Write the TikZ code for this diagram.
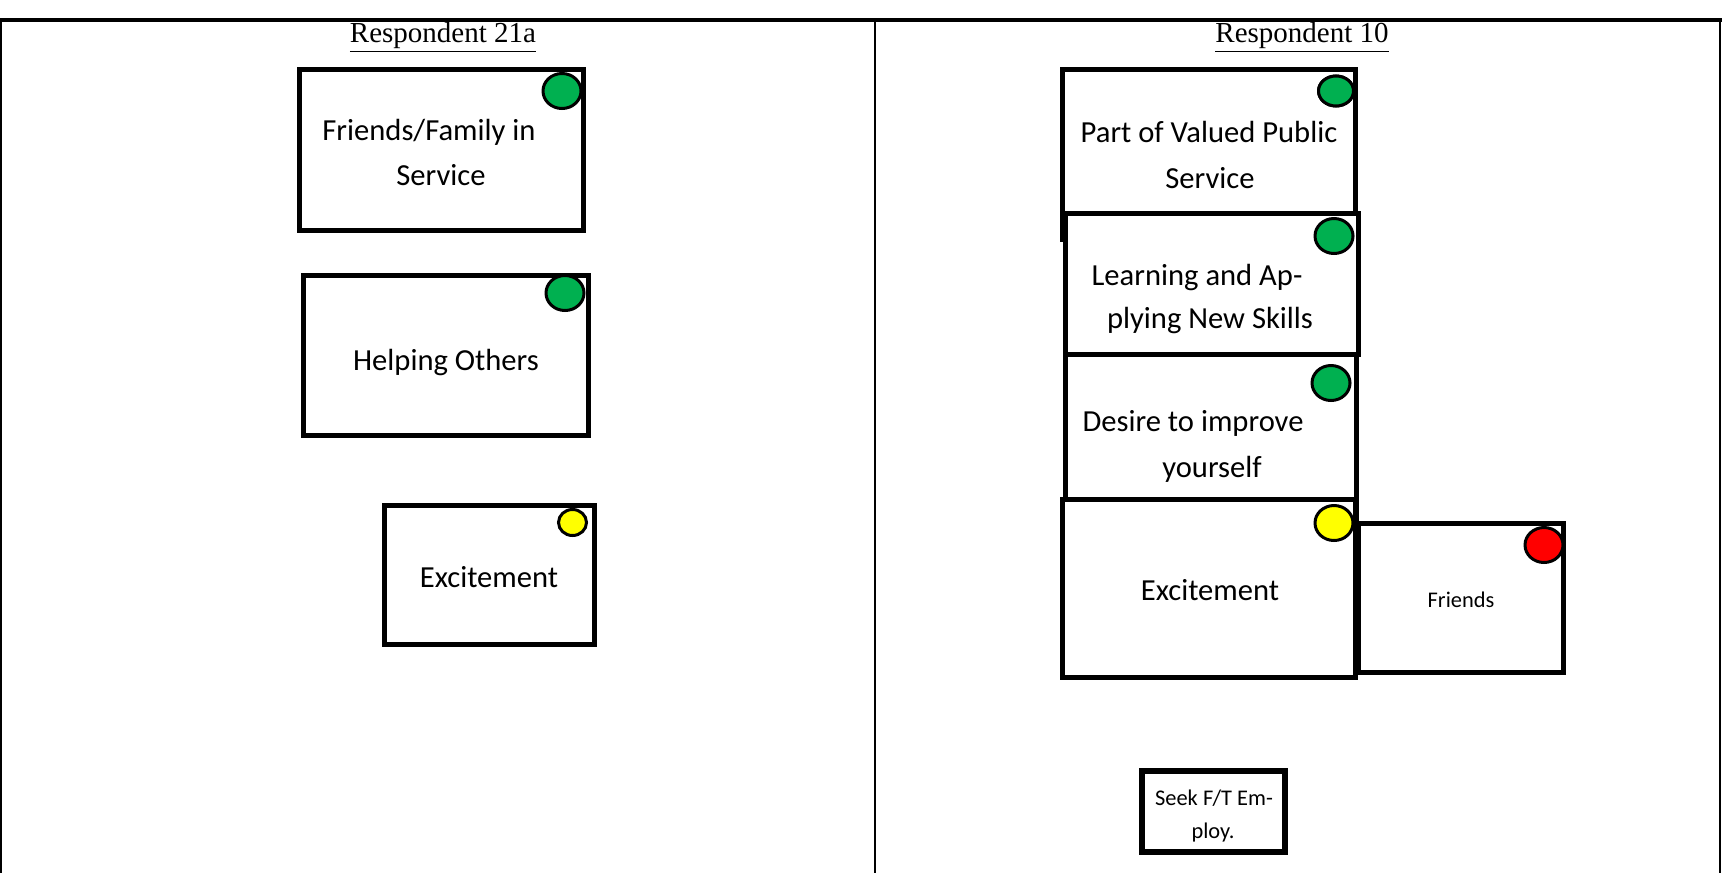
\documentclass[tikz,border=0pt]{standalone}
\usepackage{fontspec}
\setmainfont{Liberation Serif}
\newfontfamily\cardfont{Carlito}
\usetikzlibrary{shapes.geometric}
\definecolor{dotgreen}{RGB}{0,176,80}
\definecolor{dotyellow}{RGB}{255,255,0}
\definecolor{dotred}{RGB}{255,0,0}
\begin{document}
\begin{tikzpicture}[x=0.5pt,y=-0.5pt,
  card/.style={draw=black, line width=2.5pt, fill=white, inner sep=0pt, rectangle},
  cardtxt/.style={font=\cardfont\fontsize{15.3}{22.5}\selectfont, inner sep=0pt, anchor=base},
  smalltxt/.style={font=\cardfont\fontsize{11.2}{16.5}\selectfont, inner sep=0pt, anchor=base},
  dotbig/.style={draw=black, line width=1.5pt, ellipse, inner sep=0pt, minimum width=19pt, minimum height=17.5pt},
  dotsmall/.style={draw=black, line width=1.5pt, ellipse, inner sep=0pt, minimum width=14pt, minimum height=13pt},
  grid/.style={draw=black, line width=1pt},
  head/.style={font=\fontsize{14.5}{17}\selectfont, inner sep=0pt, anchor=base}
]
\useasboundingbox (0,0) rectangle (1722,873);
% table frame
\coordinate (tl) at (0,20);
\coordinate (tr) at (1722,20);
\coordinate (c1t) at (1,20);   \coordinate (c1b) at (1,873);
\coordinate (c2t) at (875,20); \coordinate (c2b) at (875,873);
\coordinate (c3t) at (1720,20);\coordinate (c3b) at (1720,873);
\draw[grid, line width=1.6pt] (tl) -- (tr);
\draw[grid] (c1t) -- (c1b);
\draw[grid] (c2t) -- (c2b);
\draw[grid] (c3t) -- (c3b);
% headers
\node[head] (h1) at (443,42) {\underline{Respondent 21a}};
\node[head] (h2) at (1302,42) {\underline{Respondent 10}};
% left column
\node[card, minimum width=142pt, minimum height=80.5pt] (a) at (441,150) {};
\node[cardtxt] (at1) at (429,140) {Friends/Family in};
\node[cardtxt] (at2) at (441,185) {Service};
\node[dotbig, fill=dotgreen] (ad) at (562,91) {};
\node[card, minimum width=142.5pt, minimum height=80pt] (b) at (446,355.5) {};
\node[cardtxt] (bt) at (446,370) {Helping Others};
\node[dotbig, fill=dotgreen] (bd) at (565,293) {};
\node[card, minimum width=105pt, minimum height=69.5pt] (c) at (489.5,575) {};
\node[cardtxt] (ct) at (489,587) {Excitement};
\node[dotsmall, fill=dotyellow] (cd) at (572.5,522.5) {};
% right column
\node[card, minimum width=146.5pt, minimum height=85pt] (d) at (1209,154.5) {};
\node[cardtxt] (dt1) at (1209,142) {Part of Valued Public};
\node[cardtxt] (dt2) at (1210,188) {Service};
\node[dotbig, minimum width=17.5pt, minimum height=15pt] (dd) at (1336,91) {};
\node[dotbig, minimum width=17.5pt, minimum height=15pt, fill=dotgreen] at (dd) {};
\node[card, minimum width=146.5pt, minimum height=70.5pt] (e) at (1212,284) {};
\node[cardtxt] (et1) at (1197,285) {Learning and Ap-};
\node[cardtxt] (et2) at (1210,328) {plying New Skills};
\node[dotbig, fill=dotgreen] (ed) at (1334,236) {};
\node[card, minimum width=145.5pt, minimum height=86.5pt] (f) at (1211,441) {};
\node[cardtxt] (ft1) at (1193,431) {Desire to improve};
\node[cardtxt] (ft2) at (1212,477) {yourself};
\node[dotbig, fill=dotgreen] (fd) at (1331,383) {};
\node[card, minimum width=146.5pt, minimum height=89pt] (g) at (1209,588.5) {};
\node[cardtxt] (gt) at (1210,600) {Excitement};
\node[dotbig, fill=dotyellow] (gd) at (1334,523) {};
\node[card, minimum width=102.5pt, minimum height=74.5pt] (h) at (1461,598) {};
\node[smalltxt] (ht) at (1461,607) {Friends};
\node[dotbig, fill=dotred] (hd) at (1544,545) {};
\node[card, line width=3pt, minimum width=71.5pt, minimum height=40.5pt] (i) at (1213.5,811.5) {};
\node[smalltxt] (it1) at (1214,805) {Seek F/T Em-};
\node[smalltxt] (it2) at (1213,838) {ploy.};
\end{tikzpicture}
\end{document}
